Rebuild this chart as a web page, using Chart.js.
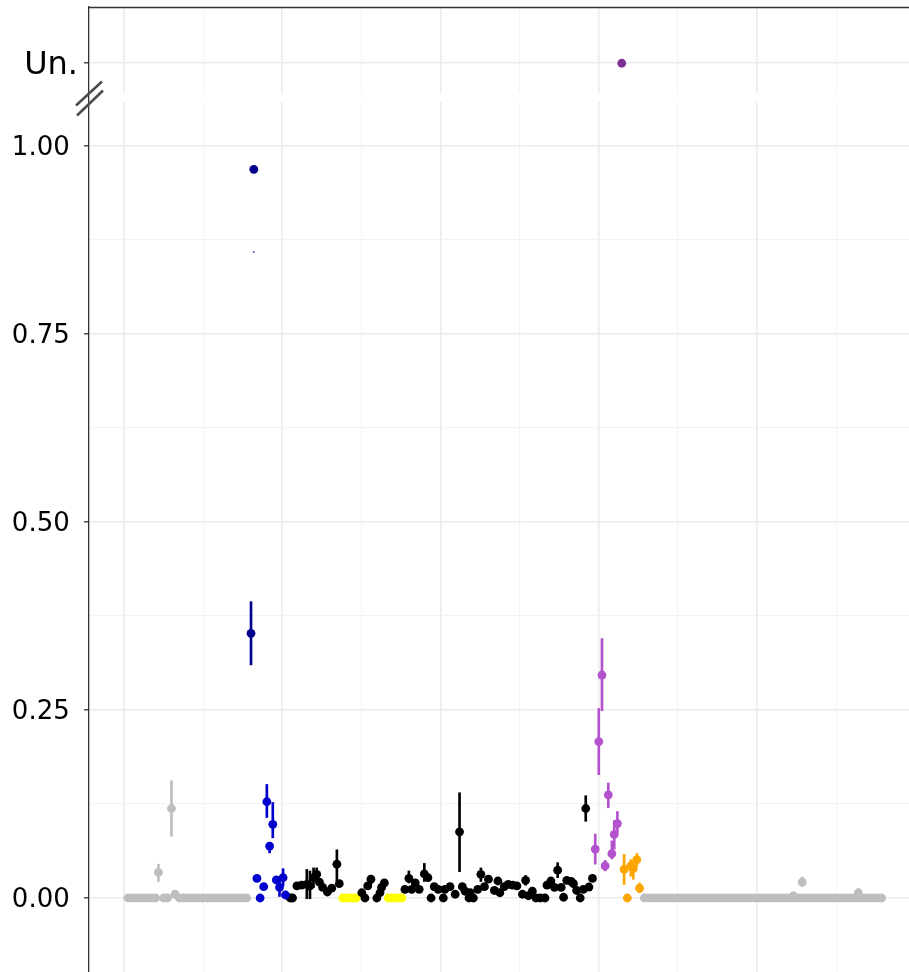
<!DOCTYPE html>
<html>
<head>
<meta charset="utf-8">
<script src="https://cdn.jsdelivr.net/npm/chart.js@4.4.1/dist/chart.umd.min.js"></script>
<style>
  html, body { margin: 0; padding: 0; background: #fff; }
  canvas { display: block; }
</style>
</head>
<body>
<canvas id="chart" width="909" height="972"></canvas>
<script>
// Axis ticks
const yTickValues = [0, 0.125, 0.25, 0.375, 0.5, 0.625, 0.75, 0.875, 1.0, 1.11]
const yTickLabels = ["0.00", "", "0.25", "", "0.50", "", "0.75", "", "1.00", "Un."]
const xTickValues = [0, 20, 40, 60, 80, 100, 120, 140, 160, 180]
const unValue = 1.11
const breakLow = 1.0585
const breakHigh = 1.0705

// Gray (outside region)
const grayX = [1, 2, 3, 4, 5, 6, 7, 8, 8.7, 10, 11, 12, 12.9, 14, 15, 16, 17, 18, 19, 20,
  21, 22, 23, 24, 25, 26, 27, 28, 29, 30, 31,
  131.5, 132.5, 133.5, 134.5, 135.5, 136.5, 137.5, 138.5, 139.5, 140.5,
  141.5, 142.5, 143.5, 144.5, 145.5, 146.5, 147.5, 148.5, 149.5, 150.5,
  151.5, 152.5, 153.5, 154.5, 155.5, 156.5, 157.5, 158.5, 159.5, 160.5,
  161.5, 162.5, 163.5, 164.5, 165.5, 166.5, 167.5, 168.5, 169.5, 170.5,
  171.5, 172.5, 173.5, 174.5, 175.5, 176.5, 177.5, 178.5, 179.5, 180.5,
  181.5, 182.5, 183.5, 184.5, 185.5, 186.5, 187.5, 188.5, 189.5, 190.5,
  191.5, 169.2, 171.4, 185.6]
const grayY = [0, 0, 0, 0, 0, 0, 0, 0, 0.034, 0, 0, 0.119, 0.005, 0, 0, 0, 0, 0, 0, 0,
  0, 0, 0, 0, 0, 0, 0, 0, 0, 0, 0,
  0, 0, 0, 0, 0, 0, 0, 0, 0, 0,
  0, 0, 0, 0, 0, 0, 0, 0, 0, 0,
  0, 0, 0, 0, 0, 0, 0, 0, 0, 0,
  0, 0, 0, 0, 0, 0, 0, 0, 0, 0,
  0, 0, 0, 0, 0, 0, 0, 0, 0, 0,
  0, 0, 0, 0, 0, 0, 0, 0, 0, 0,
  0, 0.003, 0.021, 0.007]
const grayErrX = [8.7, 12, 171.4, 185.6]
const grayErrLo = [0.022, 0.082, 0.015, 0.003]
const grayErrHi = [0.045, 0.156, 0.028, 0.011]

// Navy
const navyX = [32.1, 32.8]
const navyY = [0.352, 0.969]
const navyErrX = [32.1]
const navyErrLo = [0.310]
const navyErrHi = [0.394]
const navyFaintX = [32.8]
const navyFaintY = [0.859]

// Blue
const blueX = [33.6, 34.4, 35.3, 36.1, 36.8, 37.6, 38.5, 39.3, 40.2, 40.8]
const blueY = [0.026, 0, 0.015, 0.128, 0.069, 0.098, 0.024, 0.014, 0.027, 0.004]
const blueErrX = [36.1, 36.8, 37.6, 39.3, 40.2]
const blueErrLo = [0.107, 0.060, 0.080, 0.002, 0.016]
const blueErrHi = [0.151, 0.074, 0.127, 0.025, 0.039]

// Black
const blackX = [42.0, 42.6, 43.7, 44.9, 46.2, 47.0, 47.9, 48.7, 49.4, 50.2,
  51.4, 52.5, 53.8, 54.4, 60.1, 60.9, 61.6, 62.4, 63.9, 64.7,
  65.1, 65.8, 71.0, 72.0, 72.7, 73.6, 74.6, 75.9, 76.8, 77.6,
  78.4, 79.4, 80.7, 81.1, 82.4, 83.7, 84.8, 85.5, 86.2, 87.2,
  87.5, 88.3, 89.4, 90.2, 91.1, 92.1, 93.6, 94.5, 95.0, 96.1,
  97.1, 98.2, 99.3, 100.7, 101.5, 102.2, 103.2, 104.1, 105.2, 106.4,
  106.9, 107.9, 108.8, 109.6, 110.5, 111.1, 111.9, 113.0, 113.6, 114.4,
  115.3, 116.1, 116.7, 117.5, 118.4]
const blackY = [0, 0, 0.016, 0.017, 0.018, 0.016, 0.027, 0.0315, 0.021, 0.014,
  0.008, 0.013, 0.045, 0.019, 0.007, 0, 0.016, 0.025, 0, 0.007,
  0.014, 0.020, 0.0115, 0.026, 0.0115, 0.020, 0.0115, 0.032, 0.027, 0,
  0.015, 0.0115, 0, 0.0115, 0.015, 0.005, 0.088, 0.015, 0.009, 0,
  0.007, 0, 0.0115, 0.0315, 0.015, 0.025, 0.010, 0.0226, 0.007, 0.015,
  0.018, 0.017, 0.016, 0.005, 0.0235, 0.003, 0.009, 0, 0, 0,
  0.017, 0.0226, 0.014, 0.037, 0.014, 0.001, 0.0235, 0.022, 0.019, 0.010,
  0, 0.0115, 0.119, 0.0146, 0.026]
const blackErrX = [46.2, 47.0, 47.9, 48.7, 53.8, 62.4, 72.0, 75.9, 84.8, 90.2, 101.5, 109.6, 116.7]
const blackErrLo = [-0.001, -0.001, 0.014, 0.022, 0.023, 0.018, 0.020, 0.022, 0.035, 0.022, 0.017, 0.027, 0.102]
const blackErrHi = [0.038, 0.036, 0.040, 0.040, 0.064, 0.029, 0.036, 0.046, 0.140, 0.040, 0.030, 0.047, 0.136]

// Yellow
const yellowX = [55.3, 56.2, 57.1, 58.0, 58.7, 66.8, 67.7, 68.6, 69.5, 70.2]
const yellowY = [0, 0, 0, 0, 0, 0, 0, 0, 0, 0]

// Purple
const purpleX = [119.1, 120.0, 120.8, 121.6, 122.4, 123.3, 123.9, 124.7]
const purpleY = [0.065, 0.208, 0.2965, 0.0426, 0.137, 0.059, 0.0847, 0.099]
const purpleErrLo = [0.045, 0.164, 0.249, 0.036, 0.120, 0.052, 0.065, 0.087]
const purpleErrHi = [0.085, 0.252, 0.345, 0.050, 0.153, 0.076, 0.103, 0.115]
const unX = [125.8]

// Orange
const orangeX = [126.4, 127.2, 128.1, 128.7, 129.6, 130.3]
const orangeY = [0.038, 0, 0.0426, 0.039, 0.051, 0.013]
const orangeErrX = [126.4, 128.1, 128.7, 129.6, 130.3]
const orangeErrLo = [0.018, 0.029, 0.025, 0.042, 0.007]
const orangeErrHi = [0.058, 0.051, 0.049, 0.059, 0.020]

const pointSet = (color, xs, ys, radius = 4.4) => ({
  type: "scatter",
  data: xs.map((x, i) => ({ x, y: ys[i] })),
  backgroundColor: color,
  borderWidth: 0,
  pointRadius: radius,
  order: 1,
})

const errSet = (color, xs, lo, hi) => ({
  type: "bar",
  data: xs.map((x, i) => ({ x, y: [lo[i], hi[i]] })),
  backgroundColor: color,
  barThickness: 2,
  grouped: false,
  borderWidth: 0,
  order: 2,
})

const isMajorY = (v) => Math.abs(v * 4 - Math.round(v * 4)) < 1e-6 || v === unValue
const yLabel = (i) => yTickLabels[i] || ""

// Axis break: blank band across the panel plus the "//" mark on the axis
const axisBreak = {
  id: "axisBreak",
  beforeDatasetsDraw(chart) {
    const { ctx, chartArea } = chart
    const y = chart.scales.y
    const top = y.getPixelForValue(breakHigh)
    const bottom = y.getPixelForValue(breakLow)
    ctx.save()
    ctx.fillStyle = "#ffffff"
    ctx.fillRect(chartArea.left + 1, top, chartArea.right - chartArea.left, bottom - top)
    ctx.restore()
  },
  afterDraw(chart) {
    const { ctx, chartArea } = chart
    const y = chart.scales.y
    const mid = (y.getPixelForValue(breakHigh) + y.getPixelForValue(breakLow)) / 2
    const left = chartArea.left
    ctx.save()
    ctx.strokeStyle = "#333333"
    ctx.lineWidth = 1.3
    ctx.beginPath()
    ctx.moveTo(left, chartArea.top + 0.5)
    ctx.lineTo(chartArea.right, chartArea.top + 0.5)
    ctx.stroke()
    ctx.strokeStyle = "#4d4d4d"
    ctx.lineWidth = 2.6
    ctx.beginPath()
    ctx.moveTo(left - 13, mid + 8)
    ctx.lineTo(left + 13, mid - 16)
    ctx.moveTo(left - 12, mid + 18)
    ctx.lineTo(left + 14, mid - 7)
    ctx.stroke()
    ctx.restore()
  },
}

new Chart(document.getElementById("chart"), {
  type: "scatter",
  data: {
    datasets: [
      pointSet("#bebebe", grayX, grayY),
      errSet("#bebebe", grayErrX, grayErrLo, grayErrHi),
      pointSet("#0000cd", blueX, blueY),
      errSet("#0000cd", blueErrX, blueErrLo, blueErrHi),
      pointSet("#00008b", navyX, navyY),
      pointSet("#5a5aa8", navyFaintX, navyFaintY, 1),
      errSet("#00008b", navyErrX, navyErrLo, navyErrHi),
      pointSet("#000000", blackX, blackY),
      errSet("#000000", blackErrX, blackErrLo, blackErrHi),
      pointSet("#ffff00", yellowX, yellowY),
      pointSet("#b452cd", purpleX, purpleY),
      errSet("#b452cd", purpleX, purpleErrLo, purpleErrHi),
      pointSet("#7b3294", unX, [unValue]),
      pointSet("#ffa500", orangeX, orangeY),
      errSet("#ffa500", orangeErrX, orangeErrLo, orangeErrHi),
    ],
  },
  options: {
    responsive: false,
    animation: false,
    layout: { autoPadding: false, padding: { top: 7, left: 0, right: 0, bottom: 0 } },
    plugins: {
      legend: { display: false },
      tooltip: { enabled: false },
    },
    scales: {
      x: {
        type: "linear",
        min: -8.85,
        max: 198.4,
        offset: false,
        afterBuildTicks: (scale) => {
          scale.ticks = xTickValues.map((v) => ({ value: v }))
        },
        afterFit: (scale) => {
          scale.height = 0
          scale.paddingLeft = 0
          scale.paddingRight = 0
        },
        ticks: { display: false },
        grid: {
          offset: false,
          drawTicks: false,
          color: (c) => (c.tick && c.tick.value % 40 === 0 ? "#ebebeb" : "#f3f3f3"),
          lineWidth: (c) => (c.tick && c.tick.value % 40 === 0 ? 1.6 : 1.1),
        },
        border: { display: false },
      },
      y: {
        type: "linear",
        min: -0.0984,
        max: 1.1848,
        afterBuildTicks: (scale) => {
          scale.ticks = yTickValues.map((v) => ({ value: v }))
        },
        afterFit: (scale) => {
          scale.width = 89
          scale.paddingTop = 0
          scale.paddingBottom = 0
        },
        ticks: {
          autoSkip: false,
          padding: 6,
          labelOffset: 2,
          color: "#000000",
          font: (c) => ({
            family: "DejaVu Sans",
            size: c.index === yTickValues.length - 1 ? 32 : 26,
          }),
          callback: (value, index) => {
            const label = yLabel(index)
            return label && label !== "Un." ? label + " " : label
          },
        },
        grid: {
          tickLength: 5,
          color: (c) => (c.tick && isMajorY(c.tick.value) ? "#ebebeb" : "#f3f3f3"),
          lineWidth: (c) => (c.tick && isMajorY(c.tick.value) ? 1.6 : 1.1),
          tickColor: (c) => (c.tick && yLabel(c.index) ? "#333333" : "rgba(0,0,0,0)"),
          tickWidth: 1.3,
        },
        border: { display: true, color: "#333333", width: 1.3 },
      },
    },
  },
  plugins: [axisBreak],
})
</script>
</body>
</html>
